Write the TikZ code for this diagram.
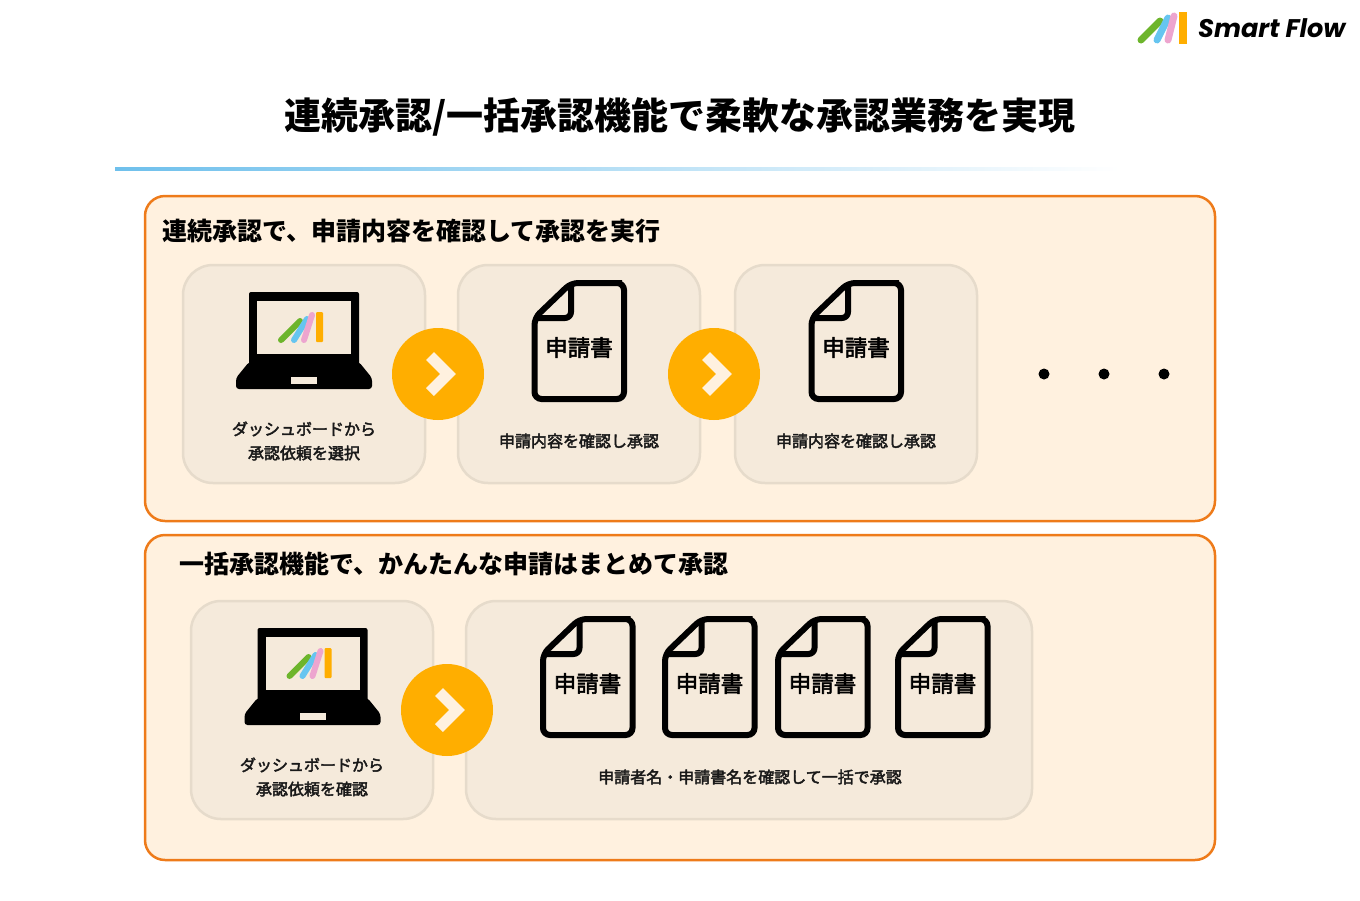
\documentclass[tikz,border=0pt]{standalone}
\usepackage{fontspec}
\usetikzlibrary{positioning}
\newfontfamily\cjk{Noto Sans CJK JP}
\newfontfamily\cjkmed[FakeBold=2.6]{Noto Sans CJK JP}
\newfontfamily\logofont{Poppins}
\definecolor{outerfill}{HTML}{FFF1DF}
\definecolor{outerline}{HTML}{EE7B1A}
\definecolor{innerfill}{HTML}{F5EADB}
\definecolor{innerline}{HTML}{E6DBCB}
\definecolor{amber}{HTML}{FFAE00}
\definecolor{logogreen}{HTML}{6DB52C}
\definecolor{logoblue}{HTML}{66C5F0}
\definecolor{logopink}{HTML}{EDA5CF}
\definecolor{ruleblue}{HTML}{6FC0EC}
\tikzset{
	outerbox/.style={draw=outerline, fill=outerfill, line width=2.5pt, rounded corners=20pt, minimum width=1070pt, minimum height=325pt, inner sep=0pt},
	innerbox/.style={draw=innerline, fill=innerfill, line width=2.5pt, rounded corners=30pt, minimum height=218pt, inner sep=0pt},
	heading/.style={font=\cjk\bfseries\fontsize{25}{30}\selectfont, anchor=west, inner sep=0pt},
	caption/.style={font=\cjkmed\fontsize{16}{24}\selectfont, align=center, inner sep=0pt, text=black!90},
	dot/.style={circle, fill=black, minimum size=11pt, inner sep=0pt},
	nextcircle/.style={circle, fill=amber, minimum size=92pt, inner sep=0pt},
	pics/logobars/.style={code={
		\draw[logogreen, line width=6pt, line cap=round] (-23,-33) -- (-4,-52);
		\draw[logoblue, line width=6pt, line cap=round] (-10,-33) -- (3,-54);
		\draw[logopink, line width=6pt, line cap=round] (0,-33) -- (8,-58);
		\fill[amber, rounded corners=1pt] (12,-61) rectangle (19,-31);
	}},
	pics/laptop/.style={code={
		\fill[black, rounded corners=2pt] (-55,-81) rectangle (55,-5);
		\fill[black, rounded corners=3pt] (-55,-11) -- (-68,5) -- (-68,16) -- (68,16) -- (68,5) -- (55,-11) -- cycle;
		\fill[innerfill] (-47,-72) rectangle (47,-19);
		\fill[innerfill] (-13,4) rectangle (13,11);
		\pic at (0,0) {logobars};
	}},
	pics/docicon/.style={code={
		\draw[black, line width=6pt, rounded corners=7pt, fill=innerfill] (-44.5,-29) -- (-8,-64) -- (36,-64) -- (45,-64) -- (45,52) -- (-44.5,52) -- cycle;
		\draw[black, line width=6pt, rounded corners=6pt, line join=round] (-8,-64) -- (-8,-29) -- (-44.5,-29);
		\node[font=\cjkmed\fontsize{22.5}{26}\selectfont, inner sep=0pt] (-text) at (0,0.5) {申請書};
	}},
	pics/chevron/.style={code={
		\node[nextcircle] (-disc) at (0,0) {};
		\draw[outerfill, line width=11pt, line join=miter] (-8,-18) -- (10,0) -- (-8,18);
	}}
}
\begin{document}
\begin{tikzpicture}[x=1pt,y=-1pt]
	\useasboundingbox (0,0) rectangle (1360,900);

	% logo
	\draw[logogreen, line width=7pt, line cap=round] (1141,40) -- (1160,21);
	\draw[logoblue, line width=7pt, line cap=round] (1157,40) -- (1168,18);
	\draw[logopink, line width=7pt, line cap=round] (1168,40) -- (1174,16);
	\fill[amber] (1179,12) rectangle (1187,44);
	\node[font=\logofont\bfseries\itshape\fontsize{25.5}{32}\selectfont, anchor=west, inner sep=0pt] (brand) at (1198,28) {Smart\kern6ptFlow};

	% title
	\node[font=\cjk\bfseries\fontsize{37}{42}\selectfont, inner sep=0pt] (title) at (680,116.5) {連続承認/一括承認機能で柔軟な承認業務を実現};
	\shade[left color=ruleblue, right color=white, draw=none] (115,167.7) rectangle (1120,170.3);

	% upper panel
	\node[outerbox] (upper) at (680,358.5) {};
	\node[heading] (upperhead) at (162,231) {連続承認で、申請内容を確認して承認を実行};
	\node[innerbox, minimum width=242pt] (pick) at (304,374) {};
	\node[innerbox, minimum width=242pt] (checka) at (579,374) {};
	\node[innerbox, minimum width=242pt] (checkb) at (856,374) {};
	\pic (laptopa) at (304,373) {laptop};
	\pic (doca) at (579,347) {docicon};
	\pic (docb) at (856,347) {docicon};
	\node[caption] (picktext) at (304,441) {ダッシュボードから\\承認依頼を選択};
	\node[caption] (checkatext) at (579,441) {申請内容を確認し承認};
	\node[caption] (checkbtext) at (856,441) {申請内容を確認し承認};
	\pic (nexta) at (438,374) {chevron};
	\pic (nextb) at (714,374) {chevron};
	\node[dot] (dota) at (1044,374) {};
	\node[dot] (dotb) at (1104,374) {};
	\node[dot] (dotc) at (1164,374) {};

	% lower panel
	\node[outerbox] (lower) at (680,697.5) {};
	\node[heading] (lowerhead) at (179,564) {一括承認機能で、かんたんな申請はまとめて承認};
	\node[innerbox, minimum width=242pt] (open) at (312,710) {};
	\node[innerbox, minimum width=566pt] (batch) at (749,710) {};
	\pic (laptopb) at (312.5,709) {laptop};
	\foreach \name/\xpos in {docc/587.5, docd/709.5, doce/822.5, docf/942.5}
		\pic (\name) at (\xpos,683) {docicon};
	\node[caption] (opentext) at (312,777) {ダッシュボードから\\承認依頼を確認};
	\node[caption] (batchtext) at (750,777) {申請者名・申請書名を確認して一括で承認};
	\pic (nextc) at (447,710) {chevron};
\end{tikzpicture}
\end{document}
